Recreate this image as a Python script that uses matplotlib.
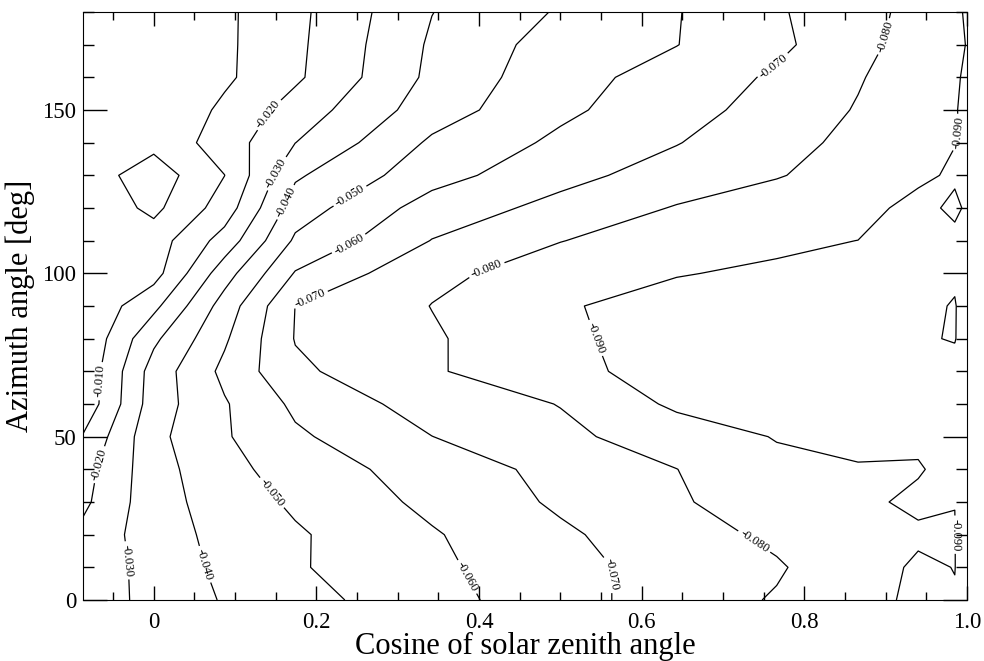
import matplotlib.pyplot as plt
from matplotlib.ticker import MultipleLocator

plt.rcParams['font.family'] = ['Liberation Serif', 'DejaVu Serif']
plt.rcParams['contour.negative_linestyle'] = 'solid'

# cosine of solar zenith angle (95, 90, 85, 80, 70, 60, 50, 40, 30, 20, 10, 0 deg)
cos_sza = [-0.087, 0.0, 0.087, 0.174, 0.342, 0.500, 0.643, 0.766, 0.866, 0.940, 0.985, 1.000]
azimuth = [0, 10, 20, 30, 40, 50, 60, 70, 80, 90, 100, 110, 120, 130, 140, 150, 160, 170, 180]

# one row per azimuth, one value per cos_sza column
field = [
    [-0.0240, -0.0331, -0.0408, -0.0463, -0.0565, -0.0658, -0.0753, -0.0808, -0.0856, -0.0925, -0.0905, -0.0940],
    [-0.0230, -0.0339, -0.0423, -0.0490, -0.0579, -0.0669, -0.0739, -0.0790, -0.0862, -0.0912, -0.08985, -0.0940],
    [-0.0225, -0.0353, -0.0431, -0.0488, -0.0591, -0.0684, -0.0759, -0.0820, -0.0870, -0.0888, -0.08985, -0.0940],
    [-0.0179, -0.0360, -0.0446, -0.0516, -0.0623, -0.0715, -0.0791, -0.0843, -0.0884, -0.0915, -0.09005, -0.0940],
    [-0.0161, -0.0360, -0.0470, -0.0543, -0.0647, -0.0728, -0.0799, -0.0876, -0.0885, -0.0894, -0.0925, -0.0940],
    [-0.0107, -0.0373, -0.0490, -0.0584, -0.0699, -0.0779, -0.0847, -0.0905, -0.0953, -0.0914, -0.0935, -0.0940],
    [-0.0027, -0.0351, -0.0491, -0.0620, -0.0745, -0.0803, -0.0918, -0.0940, -0.0955, -0.0955, -0.0960, -0.0950],
    [-0.0020, -0.0343, -0.0524, -0.0680, -0.0790, -0.0869, -0.0944, -0.0965, -0.0970, -0.0975, -0.0969, -0.0950],
    [-0.0010, -0.0280, -0.0486, -0.0705, -0.0789, -0.0876, -0.0955, -0.0980, -0.0985, -0.0991, -0.1005, -0.0950],
    [-0.0010, -0.0174, -0.0443, -0.0701, -0.0802, -0.0887, -0.0950, -0.0975, -0.0980, -0.0970, -0.1008, -0.0940],
    [-0.0030, -0.0061, -0.0357, -0.0607, -0.0780, -0.0839, -0.0893, -0.0922, -0.0945, -0.0960, -0.0980, -0.0960],
    [-0.0060, -0.0050, -0.0240, -0.0516, -0.0703, -0.0798, -0.0839, -0.0873, -0.0901, -0.0935, -0.0946, -0.0940],
    [-0.0079, 0.0024, -0.0146, -0.0450, -0.0645, -0.0729, -0.0807, -0.0848, -0.0840, -0.0955, -0.0865, -0.0926],
    [-0.0056, 0.0055, -0.0099, -0.0386, -0.0561, -0.0671, -0.0741, -0.0794, -0.0842, -0.0865, -0.0925, -0.0915],
    [-0.0030, -0.0030, -0.0146, -0.0299, -0.0516, -0.0620, -0.0696, -0.0767, -0.0825, -0.0869, -0.0896, -0.0910],
    [-0.0020, -0.0010, -0.0120, -0.0243, -0.0453, -0.0580, -0.0663, -0.0738, -0.0807, -0.0863, -0.0897, -0.0910],
    [-0.0020, -0.0010, -0.0083, -0.0183, -0.0423, -0.0565, -0.0639, -0.0715, -0.0792, -0.0855, -0.0894, -0.0907],
    [-0.0020, -0.0010, -0.0082, -0.0178, -0.0414, -0.0545, -0.0598, -0.0678, -0.0769, -0.0843, -0.0887, -0.0902],
    [-0.0020, -0.0010, -0.0082, -0.0174, -0.0398, -0.0510, -0.0595, -0.0689, -0.0763, -0.0831, -0.0888, -0.0907],
]

levels = [-0.100, -0.090, -0.080, -0.070, -0.060, -0.050, -0.040, -0.030, -0.020, -0.010, 0.000]

# where the contour labels sit (cos_sza, azimuth)
label_spots = [
    (-0.066, 67), (-0.074, 42), (0.139, 149), (-0.037, 12), (0.148, 131),
    (0.049, 10), (0.160, 122), (0.141, 32), (0.238, 125), (0.392, 8),
    (0.236, 111), (0.559, 8), (0.189, 94), (0.766, 162), (0.408, 102),
    (0.736, 17), (0.906, 172), (0.541, 80), (0.992, 143), (0.986, 20),
]

fig = plt.figure(figsize=(9.84, 6.61), dpi=100)
ax = fig.add_axes([83 / 984, 1 - 600 / 661, (967 - 83) / 984, (600 - 12) / 661])

cs = ax.contour(cos_sza, azimuth, field, levels=levels, colors='black', linewidths=0.9)
ax.clabel(cs, fmt='%.3f', fontsize=9, inline=True, inline_spacing=3, manual=label_spots)

ax.set_xlim(-0.087, 1.0)
ax.set_ylim(0, 180)
ax.set_xticks([0, 0.2, 0.4, 0.6, 0.8, 1.0])
ax.set_xticklabels(['0', '0.2', '0.4', '0.6', '0.8', '1.0'])
ax.set_yticks([0, 50, 100, 150])
ax.xaxis.set_minor_locator(MultipleLocator(0.05))
ax.yaxis.set_minor_locator(MultipleLocator(10))
ax.tick_params(which='both', direction='in', top=True, right=True, labelsize=16.5, width=1)
ax.tick_params(axis='x', which='major', length=10, pad=9)
ax.tick_params(axis='x', which='minor', length=6)
ax.tick_params(axis='y', which='major', length=17, pad=5)
ax.tick_params(axis='y', which='minor', length=8)

ax.set_xlabel('Cosine of solar zenith angle', fontsize=22, labelpad=-1)
ax.set_ylabel('Azimuth angle [deg]', fontsize=22, labelpad=5)

fig.savefig('out.png', dpi=100)
